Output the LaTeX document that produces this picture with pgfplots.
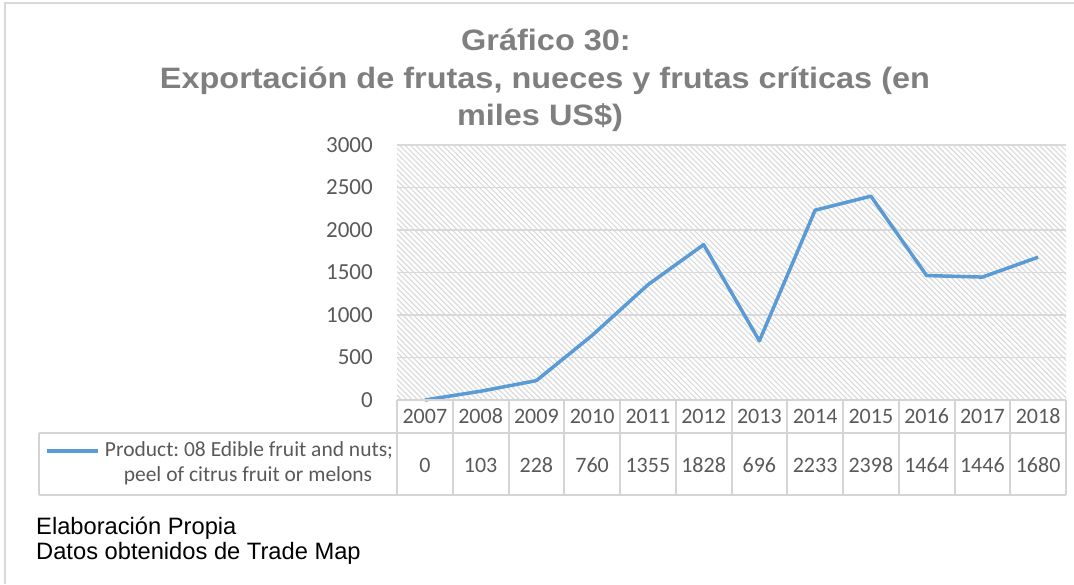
\documentclass[border=0pt]{standalone}
\usepackage{pgfplots}
\pgfplotsset{compat=1.18}
\usepackage{fontspec}
\setmainfont{Carlito}
\newfontfamily\arialf{Liberation Sans}
\usetikzlibrary{patterns.meta}
\definecolor{lineblue}{HTML}{5B9BD5}
\definecolor{gridgray}{HTML}{D9D9D9}
\definecolor{tablegray}{HTML}{D4D4D4}
\definecolor{txtgray}{HTML}{595959}
\definecolor{titlegray}{HTML}{7F7F7F}
\definecolor{hatch}{HTML}{D9D9D9}

\pgfplotstableread{
x year value
0 2007 0
1 2008 103
2 2009 228
3 2010 760
4 2011 1355
5 2012 1828
6 2013 696
7 2014 2233
8 2015 2398
9 2016 1464
10 2017 1446
11 2018 1680
}\datatable

\begin{document}
\frenchspacing
\begin{tikzpicture}[x=1pt,y=1pt]
\useasboundingbox (0,0) rectangle (1074,584);
% outer frame
\draw[gridgray, line width=1.5pt] (5,0) -- (5,581) -- (1074,581);
% title
\node[titlegray, font=\arialf\bfseries\fontsize{29.5}{37.5}\selectfont, anchor=base] at (546,533) {\scalebox{1.1}[1]{Gráfico 30:}};
\node[titlegray, font=\arialf\bfseries\fontsize{29.5}{37.5}\selectfont, anchor=base] at (545,495) {\scalebox{1.1}[1]{Exportación de frutas, nueces y frutas críticas (en}};
\node[titlegray, font=\arialf\bfseries\fontsize{29.5}{37.5}\selectfont, anchor=base] at (540,458) {\scalebox{1.1}[1]{miles US\$)}};

\begin{axis}[
  at={(397pt,184pt)}, anchor=south west,
  width=669pt, height=255pt, scale only axis,
  xmin=-0.5, xmax=11.5, ymin=0, ymax=3000,
  ytick={0,500,1000,1500,2000,2500,3000},
  xtick={0,1,2,3,4,5,6,7,8,9,10,11},
  xticklabels={2007,2008,2009,2010,2011,2012,2013,2014,2015,2016,2017,2018},
  ymajorgrids, grid style={gridgray, line width=1.5pt},
  axis line style={draw=none}, major tick length=0pt,
  /pgf/number format/assume math mode=true,
  /pgf/number format/1000 sep={},
  yticklabel style={font=\fontsize{23}{27}\selectfont, text=txtgray, anchor=east, inner sep=0pt, xshift=-24pt},
  xticklabel style={font=\fontsize{22}{26}\selectfont, text=txtgray, anchor=center, inner sep=0pt, yshift=-16pt},
  extra x ticks={0,1,2,3,4,5,6,7,8,9,10,11},
  extra x tick labels={0,103,228,760,1355,1828,696,2233,2398,1464,1446,1680},
  extra x tick style={xticklabel style={yshift=-49pt}, grid=none},
  axis background/.style={pattern={Lines[angle=-45,distance=3.8pt,line width=1.1pt]}, pattern color=hatch},
  clip=false,
]
\addplot[lineblue, line width=3.5pt, line join=round, no marks] table[x=x, y=value] {\datatable};
\end{axis}

% data table grid
\begin{scope}[tablegray, line width=2pt]
\draw (397,184) -- (1066,184);
\draw (39,151) -- (1066,151);
\draw (39,89) -- (1066,89);
\draw (39,151) -- (39,89);
\foreach \k in {0,...,12} {
  \draw ({397+55.75*\k},184) -- ({397+55.75*\k},89);
}
\end{scope}

% legend entry
\draw[lineblue, line width=3.5pt] (47,133) -- (98,133);
\node[anchor=base, font=\fontsize{21.5}{25}\selectfont, text=txtgray] at (249,127) {Product: 08 Edible fruit and nuts;};
\node[anchor=base, font=\fontsize{21.5}{25}\selectfont, text=txtgray] at (248,102) {peel of citrus fruit or melons};

% footer
\node[anchor=base west, inner sep=0pt, font=\arialf\fontsize{23.7}{25}\selectfont] at (36,49) {Elaboración Propia};
\node[anchor=base west, inner sep=0pt, font=\arialf\fontsize{23.7}{25}\selectfont] at (36,24) {Datos obtenidos de Trade Map};
\end{tikzpicture}
\end{document}
